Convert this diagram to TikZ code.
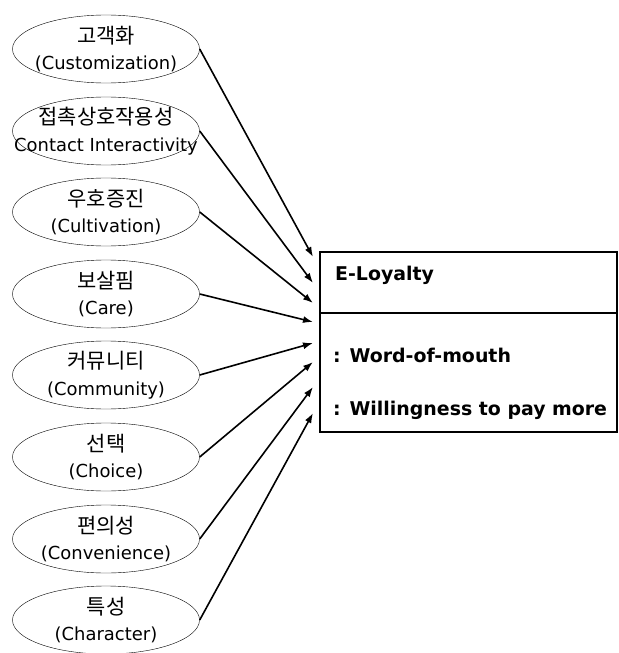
\documentclass[tikz,border=0pt]{standalone}
\usepackage{fontspec}
\setmainfont{DejaVu Sans}
\newfontfamily\kor{Noto Sans CJK KR}
\usetikzlibrary{shapes.geometric, arrows.meta}
\tikzset{%
  construct/.style={ellipse, draw, thin, minimum width=187bp, minimum height=68bp,
    inner sep=0pt, align=center, font=\fontsize{18}{24}\selectfont}, % the factor ellipses
  boxtext/.style={anchor=base west, inner sep=0pt, font=\fontsize{19}{19}\selectfont\bfseries},
  every edge/.style={%
    draw, ->, >={Latex[length=10bp, width=7bp]}, line width=1.6bp
  }
}
\newcommand{\twoline}[2]{\makebox[0pt]{\kor\fontsize{21}{24}\selectfont #1}\\[3bp]\makebox[0pt]{#2}}

\begin{document}
\begin{tikzpicture}[x=1bp, y=-1bp]
    \useasboundingbox (0,0) rectangle (619,653);

    \node[construct] (c1) at (106,49) {\twoline{고객화}{(Customization)}};
    \node[construct] (c2) at (106,131) {\twoline{접촉상호작용성}{Contact Interactivity}};
    \node[construct] (c3) at (106,212) {\twoline{우호증진}{(Cultivation)}};
    \node[construct] (c4) at (106,294) {\twoline{보살핌}{(Care)}};
    \node[construct] (c5) at (106,375) {\twoline{커뮤니티}{(Community)}};
    \node[construct] (c6) at (106,457) {\twoline{선택}{(Choice)}};
    \node[construct] (c7) at (106,539) {\twoline{편의성}{(Convenience)}};
    \node[construct] (c8) at (106,620) {\twoline{특성}{(Character)}};

    \node[draw, line width=1.4bp, minimum width=297bp, minimum height=180bp, inner sep=0pt] (box) at (468.5,342) {};
    \draw[line width=1.4bp] (box.west |- 0,313) -- (box.east |- 0,313);
    \node[boxtext] (title) at (335,280) {E-Loyalty};
    \node[boxtext] (wom) at (333,362) {: Word-of-mouth};
    \node[boxtext] (pay) at (333,415) {: Willingness to pay more};

    \coordinate (in1) at (313,257);
    \coordinate (in2) at (313,283);
    \coordinate (in3) at (313,303);
    \coordinate (in4) at (313,322);
    \coordinate (in5) at (313,343);
    \coordinate (in6) at (313,362);
    \coordinate (in7) at (313,387);
    \coordinate (in8) at (313,413);

    \draw (c1.east) edge (in1);
    \draw (c2.east) edge (in2);
    \draw (c3.east) edge (in3);
    \draw (c4.east) edge (in4);
    \draw (c5.east) edge (in5);
    \draw (c6.east) edge (in6);
    \draw (c7.east) edge (in7);
    \draw (c8.east) edge (in8);
\end{tikzpicture}
\end{document}
